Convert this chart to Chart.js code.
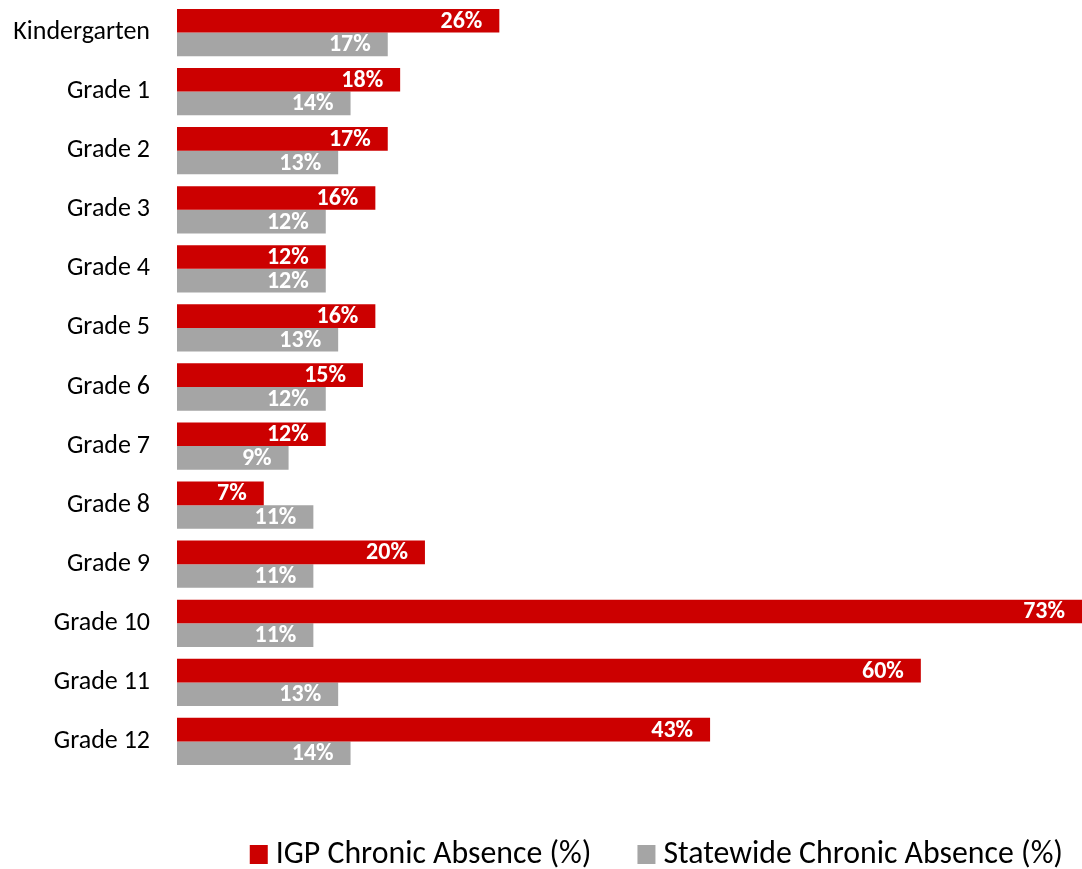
<!DOCTYPE html>
<html>
<head>
<meta charset="utf-8">
<script src="https://cdn.jsdelivr.net/npm/chart.js@4"></script>
<style>
  html, body { margin: 0; padding: 0; background: #ffffff; }
  #wrap { width: 1082px; height: 869px; position: relative; }
</style>
</head>
<body>
<div id="wrap"><canvas id="c" width="1082" height="869"></canvas></div>
<script>
// Chronic absence by grade level
const grades = ['Kindergarten', 'Grade 1', 'Grade 2', 'Grade 3', 'Grade 4', 'Grade 5', 'Grade 6',
                'Grade 7', 'Grade 8', 'Grade 9', 'Grade 10', 'Grade 11', 'Grade 12'];
const igpAbsence = [26, 18, 17, 16, 12, 16, 15, 12, 7, 20, 73, 60, 43];
const statewideAbsence = [17, 14, 13, 12, 12, 13, 12, 9, 11, 11, 11, 13, 14];
const seriesNames = ['IGP Chronic Absence (%)', 'Statewide Chronic Absence (%)'];
const seriesColors = ['#CC0000', '#A5A5A5'];

const FONT = "Carlito, Calibri, Lato, 'Open Sans', sans-serif";

// White bold value labels placed just inside the end of each bar
const barValueLabels = {
  id: 'barValueLabels',
  afterDatasetsDraw(chart) {
    const ctx = chart.ctx;
    ctx.save();
    ctx.font = 'bold 24px ' + FONT;
    ctx.fillStyle = '#ffffff';
    ctx.textAlign = 'right';
    ctx.textBaseline = 'middle';
    chart.data.datasets.forEach((ds, di) => {
      chart.getDatasetMeta(di).data.forEach((bar, i) => {
        ctx.fillText(ds.data[i] + '%', bar.x - 17, bar.y + 1);
      });
    });
    ctx.restore();
  }
};

// Legend row drawn below the plot
const bottomLegend = {
  id: 'bottomLegend',
  afterDraw(chart) {
    const ctx = chart.ctx;
    ctx.save();
    ctx.font = '31.8px ' + FONT;
    ctx.textBaseline = 'middle';
    ctx.textAlign = 'left';
    const box = 18, gapBoxText = 8, gapItems = 46;
    const items = chart.data.datasets.map(ds => ({
      text: ds.label, color: ds.backgroundColor, w: ctx.measureText(ds.label).width
    }));
    const total = items.reduce((s, it) => s + box + gapBoxText + it.w, 0) + gapItems * (items.length - 1);
    let x = 1063 - total;
    const y = 854;
    items.forEach(it => {
      ctx.fillStyle = it.color;
      ctx.fillRect(x, y - box / 2, box, box + 1);
      x += box + gapBoxText;
      ctx.fillStyle = '#000000';
      ctx.fillText(it.text, x, y + 1);
      x += it.w + gapItems;
    });
    ctx.restore();
  }
};

new Chart(document.getElementById('c'), {
  type: 'bar',
  data: {
    labels: grades,
    datasets: [
      { label: seriesNames[0], data: igpAbsence, backgroundColor: seriesColors[0] },
      { label: seriesNames[1], data: statewideAbsence, backgroundColor: seriesColors[1] }
    ]
  },
  options: {
    indexAxis: 'y',
    responsive: false,
    animation: false,
    devicePixelRatio: 1,
    layout: { padding: { top: 3, bottom: 98, left: 0, right: 0 } },
    datasets: {
      bar: { categoryPercentage: 0.8, barPercentage: 1.0 }
    },
    scales: {
      x: { display: false, min: 0, max: 73 },
      y: {
        grid: { display: false, drawTicks: false },
        border: { display: false },
        ticks: {
          color: '#000000',
          font: { family: FONT, size: 26 },
          padding: 27
        },
        afterFit(scale) {
          scale.width = 177;
          scale.paddingTop = 0;
          scale.paddingBottom = 0;
        }
      }
    },
    plugins: {
      legend: { display: false },
      tooltip: { enabled: false }
    }
  },
  plugins: [barValueLabels, bottomLegend]
});
</script>
</body>
</html>
